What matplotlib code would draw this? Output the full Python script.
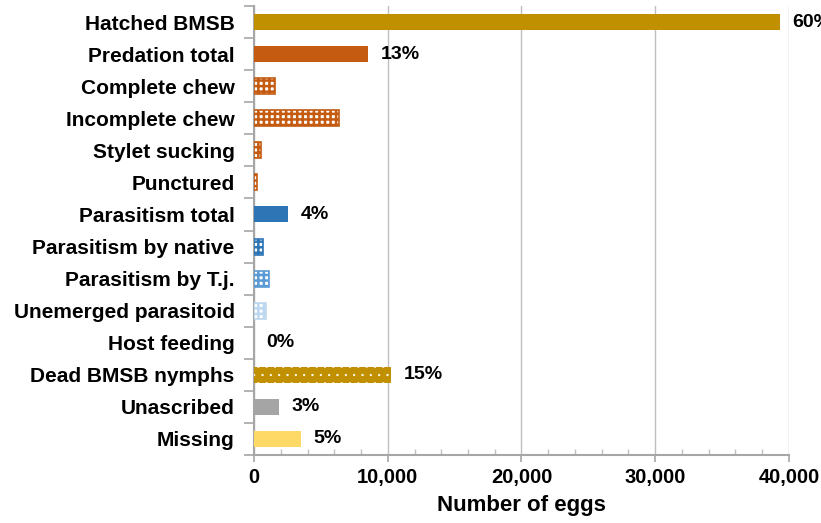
import matplotlib.pyplot as plt
from matplotlib.ticker import FuncFormatter, MultipleLocator

# ---------------------------------------------------------------------------
# Data (number of eggs per fate)
# ---------------------------------------------------------------------------
categories = [
    "Hatched BMSB", "Predation total", "Complete chew", "Incomplete chew",
    "Stylet sucking", "Punctured", "Parasitism total", "Parasitism by native",
    "Parasitism by T.j.", "Unemerged parasitoid", "Host feeding",
    "Dead BMSB nymphs", "Unascribed", "Missing",
]
eggs = [39300, 8520, 1570, 6350, 520, 220, 2540, 670, 1120, 900, 0, 10240, 1870, 3510]
pct_labels = ["60%", "13%", "", "", "", "", "4%", "", "", "", "0%", "15%", "3%", "5%"]

gold = "#C09000"
orange = "#C55A11"
blue = "#2E75B6"
lblue = "#5B9BD5"
vlblue = "#BDD7EE"
grey = "#A5A5A5"
yellow = "#FFD966"

# (face, hatch colour, hatch, hatch linewidth) per bar
styles = [
    (gold, None, None, 0),
    (orange, None, None, 0),
    ("white", orange, "+++", 1.8),
    ("white", orange, "+++", 1.8),
    ("white", orange, "+++", 1.8),
    ("white", orange, "+++", 1.8),
    (blue, None, None, 0),
    ("white", blue, "+++", 1.8),
    ("white", lblue, "+++", 1.8),
    ("white", vlblue, "+++", 1.8),
    (grey, None, None, 0),
    (gold, "white", "..", 0.4),
    (grey, None, None, 0),
    (yellow, None, None, 0),
]

plt.rcParams["font.family"] = ["Liberation Sans", "DejaVu Sans"]
plt.rcParams["font.weight"] = "bold"

fig = plt.figure(figsize=(8.21, 5.23), dpi=100)
ax = fig.add_axes([0.3094, 0.130, 0.6516, 0.8585])

ypos = list(range(len(categories)))
for y, val, (face, hc, hatch, hlw) in zip(ypos, eggs, styles):
    if hatch is None:
        ax.barh(y, val, height=0.5, color=face, linewidth=0, zorder=3)
        continue
    with plt.rc_context({"hatch.linewidth": hlw}):
        ax.barh(y, val, height=0.5, color=face, edgecolor=hc, hatch=hatch,
                linewidth=0, zorder=3)
    if face == "white":
        ax.barh(y, val, height=0.5, fill=False, edgecolor=hc,
                linewidth=1.2, zorder=4)

for y, val, lab in zip(ypos, eggs, pct_labels):
    if lab:
        ax.annotate(lab, (val, y), xytext=(9, 0), textcoords="offset points",
                    va="center", ha="left", fontsize=14, fontweight="bold",
                    annotation_clip=False)

ax.set_ylim(len(categories) - 0.5, -0.5)
ax.set_xlim(0, 40000)
ax.set_yticks(ypos)
ax.set_yticklabels(categories, fontsize=15, fontweight="bold")
ax.tick_params(axis="y", length=0, pad=14)
# category boundary ticks
ax.set_yticks([i + 0.5 for i in range(-1, len(categories))], minor=True)
ax.tick_params(axis="y", which="minor", length=7, color="#A6A6A6", width=1.2)

ax.xaxis.set_major_locator(MultipleLocator(10000))
ax.xaxis.set_minor_locator(MultipleLocator(2000))
ax.xaxis.set_major_formatter(FuncFormatter(lambda v, p: f"{int(v):,}"))
ax.tick_params(axis="x", which="major", length=5, color="#A6A6A6", width=1.2,
               labelsize=14.5, pad=4)
ax.tick_params(axis="x", which="minor", direction="in", length=4,
               color="#BFBFBF", width=1)
for t in ax.get_xticklabels():
    t.set_fontweight("bold")

ax.grid(axis="x", which="major", color="#BFBFBF", linewidth=1, zorder=0)
ax.set_axisbelow(True)
for s in ["top", "right"]:
    ax.spines[s].set_visible(False)
for s in ["left", "bottom"]:
    ax.spines[s].set_color("#A6A6A6")
    ax.spines[s].set_linewidth(1.5)

ax.set_xlabel("Number of eggs", fontsize=16, fontweight="bold", labelpad=6)

fig.savefig("out.png", dpi=100)
